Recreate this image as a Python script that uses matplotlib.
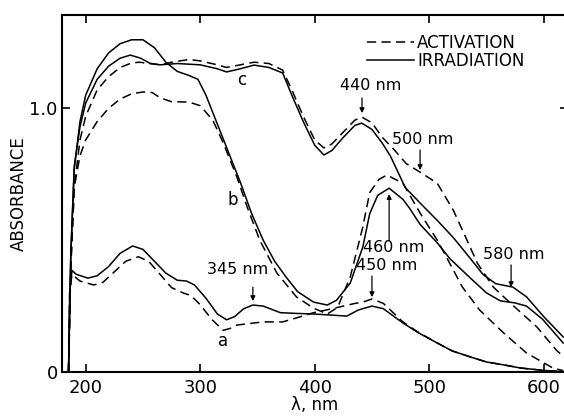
import matplotlib
matplotlib.use("Agg")
import matplotlib.pyplot as plt
from matplotlib.lines import Line2D

# curve a (irradiation, solid)
a_irr_wl = [185, 186, 188, 192, 202, 210, 220, 230, 241, 250, 260, 270, 280, 288, 295, 305, 315, 323,
            330, 338, 346, 355, 370, 385, 399, 414, 428, 438, 450, 460, 477, 490, 507, 520, 536, 550,
            565, 580, 600, 615]
a_irr_abs = [0.0, 0.3, 0.385, 0.37, 0.356, 0.365, 0.4, 0.45, 0.478, 0.465, 0.42, 0.375, 0.348, 0.345,
             0.33, 0.28, 0.22, 0.198, 0.21, 0.24, 0.254, 0.25, 0.225, 0.222, 0.22, 0.216, 0.212, 0.235,
             0.25, 0.24, 0.186, 0.15, 0.11, 0.08, 0.057, 0.038, 0.027, 0.015, 0.006, 0.002]
# curve a (activation, dashed)
a_act_wl = [185, 186, 188, 195, 207, 215, 225, 235, 246, 255, 265, 275, 285, 292, 300, 310, 320, 326,
            332, 345, 355, 372, 384, 399, 410, 422, 435, 442, 450, 460, 477, 490, 507, 520, 536, 550,
            565, 580, 600, 615]
a_act_abs = [0.0, 0.3, 0.37, 0.345, 0.33, 0.34, 0.38, 0.42, 0.437, 0.42, 0.37, 0.32, 0.30, 0.29, 0.255,
             0.2, 0.158, 0.165, 0.178, 0.185, 0.19, 0.19, 0.205, 0.225, 0.235, 0.247, 0.26, 0.265, 0.277,
             0.26, 0.19, 0.152, 0.11, 0.08, 0.057, 0.038, 0.027, 0.015, 0.006, 0.002]

# curve b (irradiation, solid)
b_irr_wl = [185, 187, 190, 195, 200, 210, 220, 230, 240, 250, 260, 270, 280, 290, 298, 305, 315, 325,
            335, 345, 355, 365, 375, 385, 399, 411, 419, 431, 442, 448, 455, 465, 477, 483, 492, 507,
            518, 536, 550, 562, 575, 585, 599, 617]
b_irr_abs = [0.0, 0.45, 0.77, 0.95, 1.05, 1.15, 1.21, 1.245, 1.26, 1.26, 1.23, 1.175, 1.14, 1.125, 1.11,
             1.05, 0.94, 0.83, 0.72, 0.6, 0.5, 0.42, 0.36, 0.305, 0.265, 0.254, 0.272, 0.337, 0.474, 0.6,
             0.67, 0.697, 0.655, 0.62, 0.56, 0.49, 0.43, 0.356, 0.30, 0.27, 0.262, 0.25, 0.2, 0.11]
# curve b (activation, dashed)
b_act_wl = [185, 187, 190, 195, 200, 210, 220, 230, 240, 250, 258, 265, 275, 290, 300, 311, 320, 332,
            341, 352, 367, 384, 399, 411, 420, 431, 442, 448, 456, 463, 477, 492, 507, 515, 529, 544,
            565, 585, 608, 617]
b_act_abs = [0.0, 0.4, 0.7, 0.82, 0.88, 0.95, 1.0, 1.035, 1.055, 1.062, 1.06, 1.04, 1.025, 1.024, 1.01,
             0.955, 0.87, 0.74, 0.626, 0.5, 0.375, 0.285, 0.242, 0.22, 0.245, 0.36, 0.55, 0.68, 0.73,
             0.747, 0.716, 0.603, 0.50, 0.436, 0.322, 0.235, 0.148, 0.072, 0.015, 0.005]

# curve c (irradiation, solid)
c_irr_wl = [185, 187, 190, 195, 200, 210, 220, 230, 239, 248, 256, 265, 280, 300, 315, 323, 335, 347,
            360, 372, 380, 390, 400, 408, 415, 425, 435, 441, 450, 459, 466, 479, 492, 507, 521, 536,
            547, 558, 573, 585, 600, 617]
c_irr_abs = [0.0, 0.45, 0.78, 0.93, 1.02, 1.11, 1.16, 1.19, 1.202, 1.19, 1.171, 1.165, 1.17, 1.165, 1.15,
             1.138, 1.15, 1.164, 1.155, 1.134, 1.05, 0.95, 0.86, 0.823, 0.84, 0.89, 0.935, 0.944, 0.92,
             0.868, 0.82, 0.70, 0.641, 0.575, 0.51, 0.43, 0.37, 0.335, 0.322, 0.285, 0.21, 0.133]
# curve c (activation, dashed)
c_act_wl = [185, 187, 190, 195, 200, 210, 220, 230, 240, 247, 255, 265, 275, 290, 300, 315, 323, 335,
            347, 360, 372, 380, 390, 400, 408, 415, 425, 435, 441, 450, 459, 470, 480, 492, 507, 521,
            533, 542, 556, 571, 594, 611, 617]
c_act_abs = [0.0, 0.4, 0.7, 0.88, 0.97, 1.07, 1.12, 1.155, 1.172, 1.175, 1.17, 1.165, 1.175, 1.185, 1.18,
             1.165, 1.155, 1.165, 1.175, 1.17, 1.145, 1.07, 0.97, 0.88, 0.85, 0.865, 0.91, 0.955, 0.967,
             0.945, 0.89, 0.84, 0.79, 0.758, 0.716, 0.614, 0.50, 0.413, 0.322, 0.261, 0.171, 0.083, 0.06]

x_ticks = [200, 300, 400, 500, 600]
y_ticks = [0, 1.0]
y_tick_labels = ["0", "1.0"]

# peak labels: (text, text position, arrow tail, arrow head)
peak_notes = [
    ("440 nm", (449, 1.085), (441.3, 1.039), (441.3, 0.982)),
    ("500 nm", (494.7, 0.88), (492, 0.842), (492, 0.766)),
    ("345 nm", (333, 0.387), (346, 0.322), (346, 0.269)),
    ("460 nm", (468.6, 0.472), (465, 0.497), (465, 0.675)),
    ("450 nm", (463, 0.404), (450, 0.364), (450, 0.284)),
    ("580 nm", (574, 0.447), (571.5, 0.406), (571.5, 0.322)),
]
curve_names = [("a", (320, 0.118)), ("b", (328.8, 0.652)), ("c", (336.6, 1.107))]

lw = 1.1
dash = (6, 3.5)

fig = plt.figure(figsize=(5.64, 4.18), dpi=100)
ax = fig.add_axes([62 / 564, 46 / 418, 506 / 564, 357 / 418])

for wl, ab in [(a_irr_wl, a_irr_abs), (b_irr_wl, b_irr_abs), (c_irr_wl, c_irr_abs)]:
    ax.plot(wl, ab, color="black", lw=lw)
for wl, ab in [(a_act_wl, a_act_abs), (b_act_wl, b_act_abs), (c_act_wl, c_act_abs)]:
    ax.plot(wl, ab, color="black", lw=lw, linestyle=(0, dash))

for text, txy, tail, head in peak_notes:
    ax.text(txy[0], txy[1], text, ha="center", va="center", fontsize=11.5)
    ax.annotate("", xy=head, xytext=tail,
                arrowprops=dict(arrowstyle="-|>", lw=0.9, color="black",
                                mutation_scale=7, shrinkA=0, shrinkB=0))

for name, pos in curve_names:
    ax.text(pos[0], pos[1], name, ha="center", va="center", fontsize=12)

handles = [Line2D([], [], color="black", lw=lw, linestyle=(0, dash)),
           Line2D([], [], color="black", lw=lw)]
ax.legend(handles, ["ACTIVATION", "IRRADIATION"], loc="upper left",
          bbox_to_anchor=(0.603, 0.947), frameon=False, fontsize=12,
          handlelength=2.8, handletextpad=0.2, labelspacing=0.0, borderpad=0,
          borderaxespad=0)

ax.set_xlim(179.3, 621.2)
ax.set_ylim(0, 1.354)
ax.set_xticks(x_ticks)
ax.set_yticks(y_ticks)
ax.set_yticklabels(y_tick_labels)
ax.tick_params(direction="in", length=6, width=1.2, top=True, right=True,
               labelsize=13)
ax.tick_params(axis="x", pad=5)
ax.tick_params(axis="y", pad=3)
for sp in ax.spines.values():
    sp.set_linewidth(1.5)

ax.set_xlabel("λ, nm", fontsize=12, labelpad=-1)
ax.set_ylabel("ABSORBANCE", fontsize=12, labelpad=1)

fig.savefig("out.png", dpi=100)
